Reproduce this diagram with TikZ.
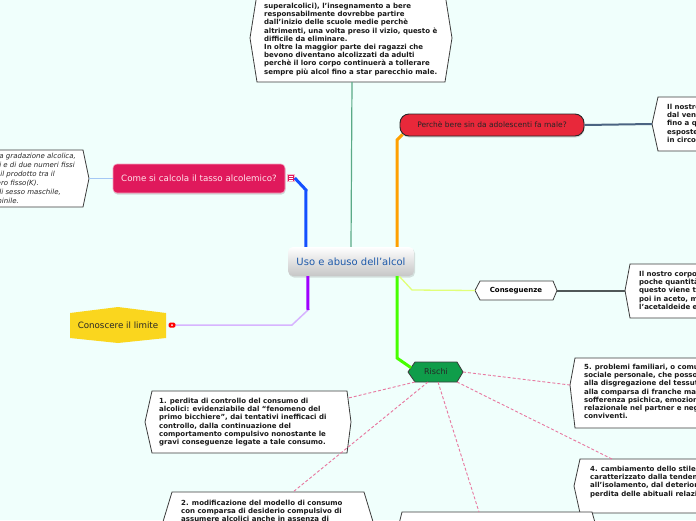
\documentclass[tikz,border=0pt]{standalone}
\usepackage{fontspec}
\setmainfont{DejaVu Sans}
\usetikzlibrary{shadows}
\definecolor{bgc}{RGB}{240,255,252}
\definecolor{tealc}{RGB}{90,170,135}
\definecolor{bluec}{RGB}{20,80,255}
\definecolor{orangec}{RGB}{255,160,0}
\definecolor{purplec}{RGB}{160,0,255}
\definecolor{lavc}{RGB}{215,180,255}
\definecolor{greenc}{RGB}{70,255,0}
\definecolor{limec}{RGB}{225,255,120}
\definecolor{lbluec}{RGB}{165,200,245}
\definecolor{slatec}{RGB}{75,100,130}
\definecolor{grayc}{RGB}{80,88,88}
\definecolor{redc}{RGB}{232,40,58}
\definecolor{crimc}{RGB}{224,25,92}
\definecolor{cometext}{RGB}{255,228,235}
\definecolor{yelc}{RGB}{250,214,30}
\definecolor{risc}{RGB}{15,157,74}
\definecolor{pinkc}{RGB}{232,120,160}
\definecolor{bordc}{RGB}{60,60,60}
\definecolor{ctext}{RGB}{30,90,170}
\begin{document}
\begin{tikzpicture}[x=1pt,y=-1pt,
  boxline/.style={draw=bordc,line width=0.8pt,fill=white},
  boxtext/.style={font=\fontsize{7}{8.2}\selectfont\bfseries,align=left,inner sep=0pt,anchor=north west,text=black!90},
  dashlink/.style={draw=pinkc,line width=0.9pt,dash pattern=on 3pt off 2pt},
  thick3/.style={line width=3pt}]
\useasboundingbox (0,0) rectangle (696,520);
\fill[bgc] (0,0) rectangle (696,520);
\clip (0,0) rectangle (696,520);

% top box
\draw[boxline] (257,-6) -- (445,-6) -- (452,38) -- (445,82) -- (257,82) -- (250,38) -- cycle;
\coordinate (tbbot) at (352,82);
\node[boxtext] (tb) at (264,3) {superalcolici), l'insegnamento a bere\\responsabilmente dovrebbe partire\\dall'inizio delle scuole medie perchè\\altrimenti, una volta preso il vizio, questo è\\difficile da eliminare.\\In oltre la maggior parte dei ragazzi che\\bevono diventano alcolizzati da adulti\\perchè il loro corpo continuerà a tollerare\\sempre più alcol fino a star parecchio male.};

% center
\node[rounded corners=5pt, top color=white, bottom color=gray!45, minimum width=126pt, minimum height=29pt, inner sep=0pt, font=\fontsize{10}{12}\selectfont, text=ctext, drop shadow={opacity=0.25,shadow xshift=1pt,shadow yshift=-1.5pt}] (c) at (351,261.5) {Uso e abuso dell'alcol};
\draw[tealc, line width=1.2pt] (c.north) -- (tbbot);

% why
\node[fill=redc, draw=black!85, line width=0.9pt, rounded corners=9pt, minimum width=184pt, minimum height=22pt, inner sep=0pt, font=\fontsize{7.5}{9}\selectfont, text=black!85, drop shadow={opacity=0.3,shadow xshift=0.5pt,shadow yshift=-1.5pt}] (why) at (492,125) {Perchè bere sin da adolescenti fa male?};
\draw[boxline] (652,124) coordinate (rtbtip) -- (658,97) -- (710,97) -- (710,151) -- (658,151) -- cycle;
\node[boxtext] (rtb) at (667,104) {Il nostro cervello si sviluppa\\dal ventesimo anno di età\\fino a quel momento le cellule\\esposte all'alcol si danneggiano\\in circolo nel sangue.};
\draw[slatec, line width=2pt] (why.east) -- (rtbtip);
\draw[orangec, thick3] ([xshift=-17pt]c.north east) -- (397,140) -- ([xshift=3pt,yshift=2pt]why.south west);

% come
\node[fill=crimc, draw=crimc!40, line width=0.6pt, rounded corners=4pt, minimum width=172pt, minimum height=29pt, inner sep=0pt, font=\fontsize{8.7}{10}\selectfont, text=cometext, drop shadow={opacity=0.3,shadow xshift=0.5pt,shadow yshift=-1.5pt}] (come) at (199,178.5) {Come si calcola il tasso alcolemico?};
\node[fill=crimc, draw=white!70!crimc, line width=0.5pt, minimum size=7pt, inner sep=0pt] (ico) at (291,178) {};
\draw[white, line width=0.6pt] ([xshift=-2pt,yshift=1.8pt]ico.center) -- ([xshift=2pt,yshift=1.8pt]ico.center)
  ([xshift=-2pt]ico.center) -- ([xshift=2pt]ico.center)
  ([xshift=-2pt,yshift=-1.8pt]ico.center) -- ([xshift=2pt,yshift=-1.8pt]ico.center);
\draw[bluec, thick3] (ico.east) -- (306,190) -- ([xshift=18pt]c.north west);
\draw[boxline] (-20,150) -- (83,150) -- (89,178.5) coordinate (lbtip) -- (83,207) -- (-20,207) -- cycle;
\node[font=\fontsize{7}{9}\selectfont\itshape, align=right, inner sep=0pt, anchor=north east, text=black!85] (lb) at (76,153) {per la gradazione alcolica,\\chili e di due numeri fissi\rule{1pt}{0pt}\\il prodotto tra il\rule{21pt}{0pt}\\numero fisso(K).\rule{37pt}{0pt}\\di sesso maschile,\rule{15pt}{0pt}\\femminile.\rule{57pt}{0pt}};
\draw[lbluec, line width=1.5pt] (come.west) -- (lbtip);

% conoscere
\fill[yelc] (70,313) -- (118,307) -- (166,313) -- (166,338) -- (118,343) -- (70,338) -- cycle;
\node[font=\fontsize{8.7}{10}\selectfont, text=black!85, inner sep=0pt] (lim) at (118,325) {Conoscere il limite};
\node[fill=red, rounded corners=1.5pt, minimum width=7pt, minimum height=5pt, inner sep=0pt] (dot) at (172,325) {};
\fill[white] (dot.center) circle (1pt);
\coordinate (pbend) at (308,310);
\draw[lavc, line width=1.5pt] (dot.east) -- (292,325) -- (pbend);
\draw[purplec, thick3] (pbend) -- ([xshift=20pt]c.south west);

% conseguenze
\draw[draw=bordc, fill=white, line width=0.8pt] (475,290.5) coordinate (constip) -- (480,281) -- (553,281) -- (557,290.5) coordinate (consE) -- (553,300) -- (480,300) -- cycle;
\node[font=\fontsize{7}{8}\selectfont\bfseries, inner sep=0pt] (cons) at (516,290.5) {Conseguenze};
\draw[limec, line width=1.3pt] ([xshift=-15pt]c.south east) -- (412,290) -- (constip);
\draw[boxline] (625,290.5) coordinate (rb2tip) -- (630,264) -- (710,264) -- (710,318) -- (630,318) -- cycle;
\node[boxtext] (rb2) at (639,271) {Il nostro corpo riesce a smaltire solo\\poche quantità di alcol alla volta;\\questo viene trasformato in acetaldeide\\poi in aceto, ma se si beve troppo\\l'acetaldeide entra in circolo.};
\draw[grayc, line width=2pt] (consE) -- (rb2tip);

% rischi
\draw[fill=risc, draw=bordc, line width=0.8pt] (408,372) -- (415,362) -- (457,362) -- (463,372) coordinate (risE) -- (457,382) coordinate (risSE) -- (415,382) coordinate (risSW) -- cycle;
\coordinate (risW) at (411,367.7);
\coordinate (risB3) at (438,382);
\coordinate (risB2) at (428,382);
\node[font=\fontsize{8}{9}\selectfont, text=black!85, inner sep=0pt] (ris) at (436,372) {Rischi};
\draw[greenc, thick3] ([xshift=-17pt]c.south east) -- (397,358) -- (risW);

% box 5
\draw[boxline] (570,385) coordinate (b5tip) -- (575,358) -- (710,358) -- (710,428) -- (575,428) -- cycle;
\node[boxtext] (b5) at (584,364) {5. problemi familiari, o comunque di tipo\\sociale personale, che possono portare\\alla disgregazione del tessuto familiare,\\alla comparsa di franche manifestazioni di\\sofferenza psichica, emozionale e\\relazionale nel partner e negli altri\\conviventi.};
% box 4
\draw[boxline] (574,486) -- (580,459) -- (710,459) -- (710,513) -- (580,513) -- cycle;
\coordinate (b4top) at (612,459);
\node[boxtext] (b4) at (590,466) {4. cambiamento dello stile di vita\\caratterizzato dalla tendenza\\all’isolamento, dal deterioramento e\\perdita delle abituali relazioni};
% box 3
\draw[boxline] (402,512) -- (592,512) -- (600,540) -- (592,560) -- (402,560) -- (395,540) -- cycle;
\coordinate (b3top) at (479,512);
% box 1
\draw[boxline] (145,422) -- (152,391) -- (347,391) -- (351,422) -- (347,453) -- (152,453) -- cycle;
\coordinate (b1R) at (348.5,398);
\node[boxtext] (b1) at (159,398) {1. perdita di controllo del consumo di\\alcolici: evidenziabile dal “fenomeno del\\primo bicchiere”, dai tentativi inefficaci di\\controllo, dalla continuazione del\\comportamento compulsivo nonostante le\\gravi conseguenze legate a tale consumo.};
% box 2
\draw[boxline] (162,525) -- (172,492) -- (364,492) -- (374,525) -- (364,560) -- (172,560) -- cycle;
\coordinate (b2top) at (293,492);
\node[boxtext] (b2) at (181,500) {2. modificazione del modello di consumo\\con comparsa di desiderio compulsivo di\\assumere alcolici anche in assenza di};

\draw[dashlink] (risE) -- (b5tip);
\draw[dashlink] (risSE) -- (b4top);
\draw[dashlink] (risB3) -- (b3top);
\draw[dashlink] (risSW) -- (b1R);
\draw[dashlink] (risB2) -- (b2top);
\end{tikzpicture}
\end{document}
